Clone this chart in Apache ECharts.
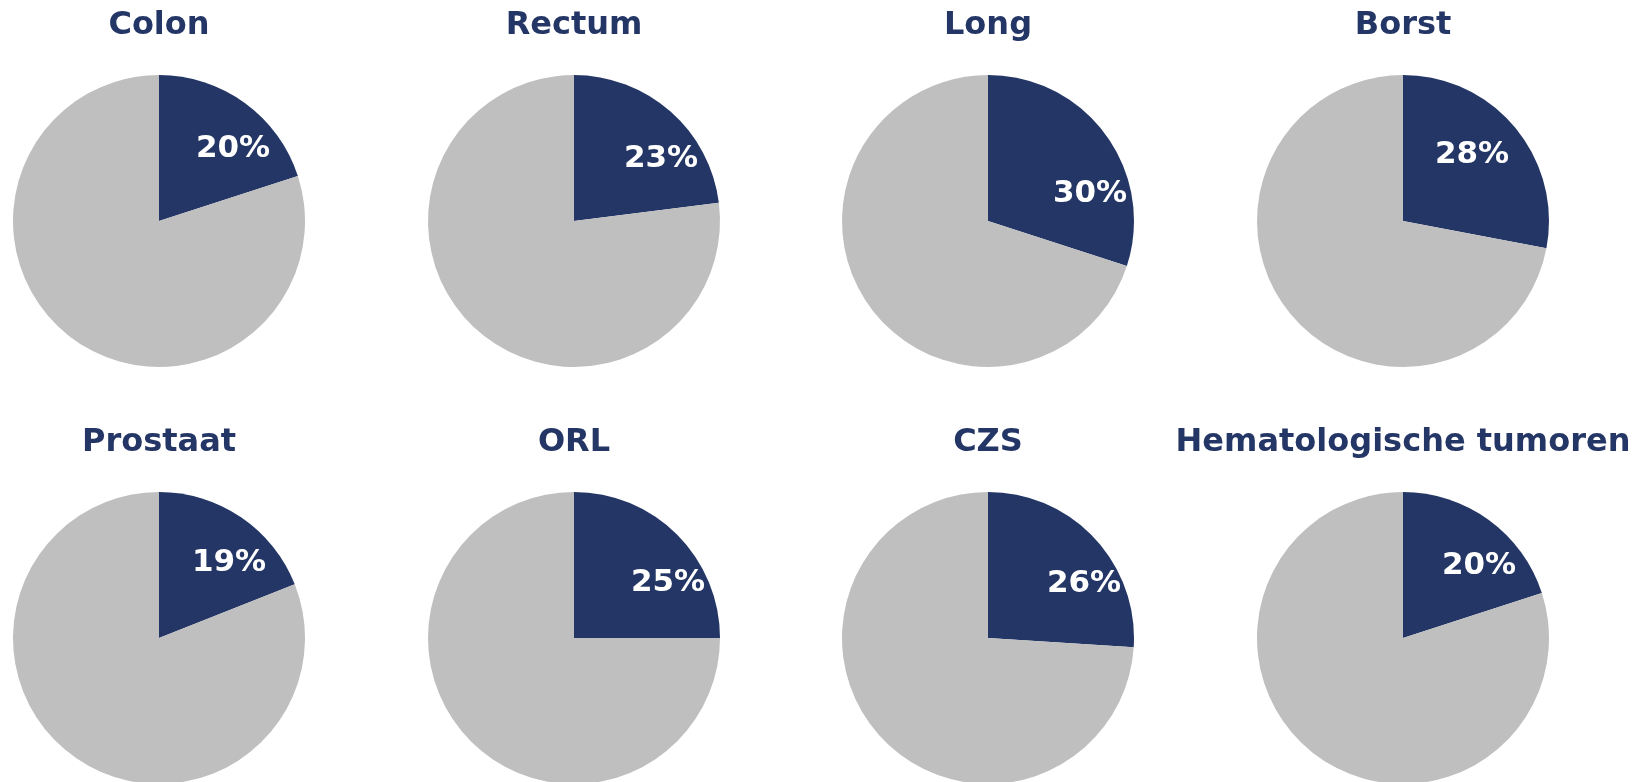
<!DOCTYPE html>
<html>
<head>
<meta charset="utf-8">
<style>
  html, body { margin: 0; padding: 0; background: #fff; }
  #main { width: 1642px; height: 782px; }
</style>
<script src="https://cdn.jsdelivr.net/npm/echarts@6/dist/echarts.min.js"></script>
</head>
<body>
<div id="main"></div>
<script>
// tumour types and share (%) of the dark slice
var tumours = ['Colon', 'Rectum', 'Long', 'Borst', 'Prostaat', 'ORL', 'CZS', 'Hematologische tumoren'];
var shares = [20, 23, 30, 28, 19, 25, 26, 20];

var navy = '#243665';
var grey = '#bfbfbf';
var font = 'DejaVu Sans, Verdana, sans-serif';

var dom = document.getElementById('main');
var myChart = echarts.init(dom);

// grid of 4 x 2 pies
var colX = [159, 574, 988, 1403];
var rowY = [221, 638];
var radius = 146;
// Excel put the % labels a bit off the mid angle, nudge them (px from pie centre)
var labelNudge = [[74, -72], [87, -62], [102, -27], [69, -66], [70, -75], [94, -55], [96, -54], [76, -72]];

var titles = [];
var series = [];

tumours.forEach(function (name, i) {
    var cx = colX[i % 4];
    var cy = rowY[Math.floor(i / 4)];
    titles.push({
        text: name,
        left: cx,
        top: cy - 211,
        padding: 0,
        textAlign: 'center',
        textStyle: { color: navy, fontFamily: font, fontWeight: 'bold', fontSize: 32 }
    });
    series.push({
        name: name,
        type: 'pie',
        center: [cx, cy],
        radius: [0, radius],
        startAngle: 90,
        clockwise: true,
        silent: true,
        emphasis: { disabled: true },
        itemStyle: { borderWidth: 0 },
        label: { show: false },
        labelLine: { show: false },
        labelLayout: function (p) {
            return {
                x: cx + labelNudge[i][0],
                y: cy + labelNudge[i][1],
                align: 'center',
                verticalAlign: 'middle'
            };
        },
        data: [
            {
                value: shares[i],
                itemStyle: { color: navy },
                label: {
                    show: true,
                    position: 'inside',
                    formatter: '{c}%',
                    color: '#ffffff',
                    fontFamily: font,
                    fontWeight: 'bold',
                    fontSize: 31
                }
            },
            { value: 100 - shares[i], itemStyle: { color: grey } }
        ]
    });
});

var option = {
    animation: false,
    title: titles,
    series: series
};

if (option && typeof option === 'object') {
    myChart.setOption(option);
}
</script>
</body>
</html>
